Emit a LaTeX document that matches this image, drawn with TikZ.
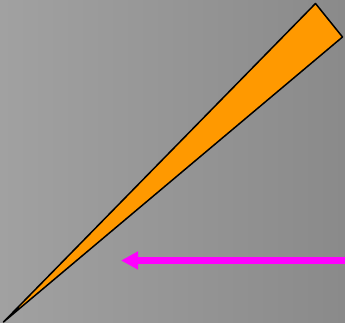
\documentclass[tikz,border=0pt]{standalone}
\usetikzlibrary{arrows.meta}
\definecolor{bgl}{RGB}{161,161,161}
\definecolor{bgr}{RGB}{138,138,138}
\definecolor{wedge}{RGB}{255,153,0}
\definecolor{arr}{RGB}{255,0,255}
\tikzset{
  wedgestyle/.style={fill=wedge,draw=black,line width=1.5pt,line join=round},
  arrowstyle/.style={draw=arr,line width=6.5pt,-{Triangle[length=17pt,width=17pt]}}
}
\begin{document}
\begin{tikzpicture}[x=1pt,y=-1pt]
\useasboundingbox (0,0) rectangle (345,323);
\shade[left color=bgl,right color=bgr] (0,0) rectangle (345,323);
\coordinate (tip) at (3.5,322);
\coordinate (top) at (315.5,3.5);
\coordinate (right) at (342.5,37);
\draw[wedgestyle] (tip) -- (top) -- (right) -- cycle;
\coordinate (astart) at (346,260.5);
\coordinate (aend) at (121,260.5);
\draw[arrowstyle] (astart) -- (aend);
\end{tikzpicture}
\end{document}
